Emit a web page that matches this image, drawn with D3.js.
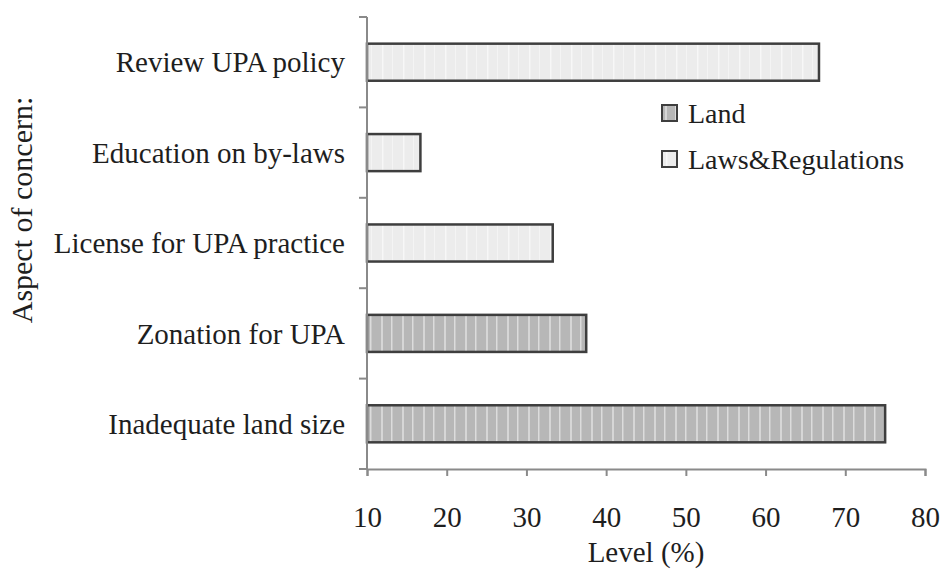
<!DOCTYPE html>
<head>
    <meta charset="utf-8">
    <style>
        body{ margin:0; background:white; }
        svg{ background-color:white; }
        text{ font-family:"Liberation Serif", "Times New Roman", serif; fill:#1e1e1e; }
        .axis path, .axis line{ stroke:#8a8a8a; stroke-width:2; }
    </style>
</head>
<body>
<script src="https://cdnjs.cloudflare.com/ajax/libs/d3/7.8.5/d3.min.js"></script>
<script>

// data, top to bottom as drawn
const categories = ['Review UPA policy', 'Education on by-laws', 'License for UPA practice', 'Zonation for UPA', 'Inadequate land size'];
const levels = [66.7, 16.7, 33.3, 37.5, 75];
const groups = ['Laws&Regulations', 'Laws&Regulations', 'Laws&Regulations', 'Land', 'Land'];
const legendItems = ['Land', 'Laws&Regulations'];
const xTicks = [10, 20, 30, 40, 50, 60, 70, 80];

const width = 941;
const height = 570;
const fontSize = 29;

const svg = d3.select('body').append('svg')
    .attr('width', width)
    .attr('height', height);

// stripey fills, like the original print
const defs = svg.append('defs');
const makePattern = (id, base, lines) => {
    const p = defs.append('pattern')
        .attr('id', id)
        .attr('patternUnits', 'userSpaceOnUse')
        .attr('width', 21)
        .attr('height', 10);
    p.append('rect').attr('width', 21).attr('height', 10).attr('fill', base);
    lines.forEach(([lx, w, c]) => {
        p.append('rect').attr('x', lx).attr('width', w).attr('height', 10).attr('fill', c);
    });
};
makePattern('landFill', '#b7b7b7', [[3, 2, '#d6d6d6'], [13, 1.5, '#dcdcdc']]);
makePattern('lawFill', '#ececec', [[4, 1.5, '#f7f7f7'], [14, 1, '#f4f4f4']]);

const fills = { 'Land': 'url(#landFill)', 'Laws&Regulations': 'url(#lawFill)' };

const x = d3.scaleLinear().domain([10, 80]).range([367, 925]);
const y = d3.scaleBand().domain(categories).range([17, 469])
    .paddingInner(0.59).paddingOuter(0.295);

// bars
svg.append('g').selectAll('rect')
    .data(categories)
    .join('rect')
        .attr('x', x(10))
        .attr('y', d => y(d))
        .attr('width', (d, i) => x(levels[i]) - x(10))
        .attr('height', y.bandwidth())
        .attr('fill', (d, i) => fills[groups[i]])
        .attr('stroke', '#3e3e3e')
        .attr('stroke-width', 2.5);

// x axis
const xAxis = svg.append('g')
    .attr('class', 'axis')
    .attr('transform', `translate(0, 469)`)
    .call(d3.axisBottom(x).tickValues(xTicks).tickSize(7).tickSizeOuter(7).tickPadding(30));
xAxis.selectAll('text')
    .style('font-size', fontSize + 'px')
    .style('font-family', '"Liberation Serif", serif');

// y axis: line with ticks on the band edges, labels centred on bands
const yAxis = svg.append('g').attr('class', 'axis');
yAxis.append('line')
    .attr('x1', 367).attr('x2', 367)
    .attr('y1', 17).attr('y2', 469);
yAxis.selectAll('line.edge')
    .data(d3.range(categories.length + 1))
    .join('line')
        .attr('class', 'edge')
        .attr('x1', 359).attr('x2', 367)
        .attr('y1', i => 17 + i * y.step())
        .attr('y2', i => 17 + i * y.step());

svg.append('g').selectAll('text')
    .data(categories)
    .join('text')
        .attr('x', 345)
        .attr('y', d => y(d) + y.bandwidth() / 2)
        .attr('dy', '0.35em')
        .attr('text-anchor', 'end')
        .style('font-size', fontSize + 'px')
        .text(d => d);

// axis titles
svg.append('text')
    .attr('x', 646)
    .attr('y', 562)
    .attr('text-anchor', 'middle')
    .style('font-size', fontSize + 'px')
    .text('Level (%)');

svg.append('text')
    .attr('transform', 'translate(32, 210) rotate(-90)')
    .attr('text-anchor', 'middle')
    .style('font-size', '30px')
    .text('Aspect of concern:');

// legend
const legend = svg.append('g').attr('transform', 'translate(662, 105)');
legendItems.forEach((name, i) => {
    const row = legend.append('g').attr('transform', `translate(0, ${i * 46})`);
    row.append('rect')
        .attr('width', 15).attr('height', 16)
        .attr('fill', fills[name])
        .attr('stroke', '#3e3e3e')
        .attr('stroke-width', 2);
    row.append('text')
        .attr('x', 26)
        .attr('y', 18)
        .style('font-size', '28px')
        .text(name);
});

</script>
</body>
</html>
